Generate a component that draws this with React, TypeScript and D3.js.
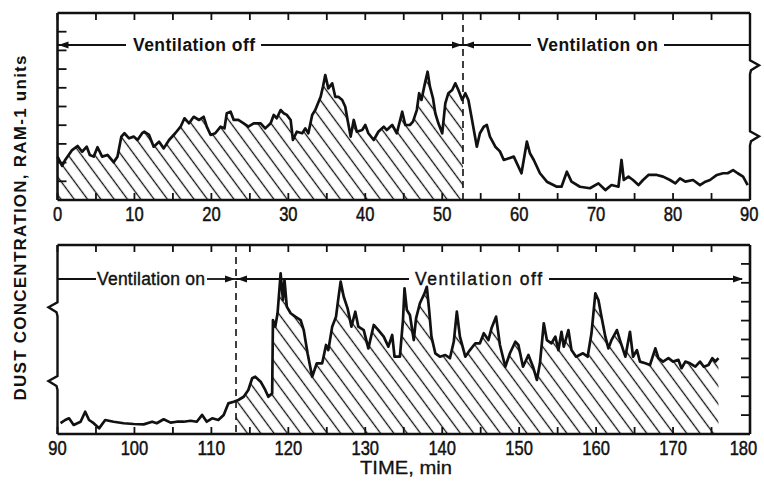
import React from "react";
import * as d3 from "d3";

const width = 764;
const height = 481;
const font = "'Liberation Sans', Arial, sans-serif";

// 0-90 min run (ventilation off, then on)
const topMinutes = [
  0, 0.6, 1.0, 1.9, 2.6, 3.2, 3.8, 4.2, 4.7, 5.2,
  5.8, 6.5, 7.3, 7.8, 8.3, 8.7, 9.3, 9.9, 10.4, 11.0,
  11.3, 11.9, 12.5, 13.2, 13.8, 14.5, 15.3, 16.0, 16.5, 17.1,
  17.7, 18.4, 19.0, 19.4, 19.9, 20.5, 21.2, 21.7, 22.0, 22.5,
  22.9, 23.5, 24.2, 24.8, 25.5, 26.4, 27.0, 27.7, 28.1, 28.5,
  29.0, 29.4, 29.8, 30.3, 30.6, 31.1, 31.8, 32.2, 32.6, 33.1,
  33.5, 34.2, 34.5, 34.8, 35.2, 35.7, 36.1, 36.5, 37.0, 37.4,
  37.7, 38.1, 38.5, 38.9, 39.6, 40.0, 40.4, 41.1, 41.7, 42.4,
  42.8, 43.5, 44.1, 44.8, 45.2, 45.8, 46.2, 46.7, 47.0, 47.3,
  47.8, 48.1, 48.4, 48.8, 49.1, 49.5, 50.0, 50.4, 50.8, 51.3,
  51.7, 52.1, 52.6, 53.0, 53.4, 53.8, 54.5, 54.9, 55.4, 55.8,
  56.2, 56.9, 57.5, 58.0, 59.3, 60.3, 61.0, 61.4, 61.9, 62.7,
  63.6, 64.9, 65.5, 66.2, 66.8, 67.9, 69.2, 70.3, 71.2, 72.0,
  72.9, 73.3, 73.6, 74.2, 74.8, 75.5, 76.1, 76.8, 77.9, 78.7,
  79.6, 80.3, 80.9, 81.6, 82.6, 83.5, 84.2, 84.8, 85.7, 86.5,
  87.1, 87.8, 88.4, 89.1, 89.7,
];
const topDust = [
  2.32, 1.83, 2.14, 2.67, 2.89, 2.58, 2.85, 2.41, 2.32, 2.82,
  2.32, 2.41, 2.02, 2.32, 3.39, 3.57, 3.3, 3.39, 3.21, 3.57,
  3.65, 3.48, 2.85, 3.12, 2.76, 3.21, 3.57, 3.92, 4.37, 4.1,
  4.45, 4.28, 4.45, 3.92, 3.48, 3.57, 3.92, 3.83, 4.64, 4.72,
  4.28, 4.28, 4.1, 3.92, 4.1, 4.1, 3.83, 4.1, 4.55, 4.37,
  4.81, 4.64, 4.55, 4.28, 3.21, 3.65, 3.57, 3.83, 3.57, 4.55,
  4.81, 5.52, 6.06, 6.68, 5.97, 6.24, 5.52, 5.52, 5.35, 4.99,
  4.28, 3.39, 4.28, 3.65, 3.74, 4.01, 3.57, 3.21, 3.65, 3.92,
  3.74, 4.01, 3.57, 4.72, 4.01, 4.01, 4.19, 4.81, 5.71, 5.35,
  6.33, 6.86, 6.06, 5.44, 4.64, 4.1, 3.57, 5.17, 5.71, 5.88,
  6.24, 5.88, 5.35, 5.71, 5.35, 4.45, 2.85, 3.57, 3.92, 4.01,
  3.39, 2.85, 2.6, 2.14, 2.32, 1.43, 3.12, 2.5, 2.14, 1.43,
  0.98, 0.71, 0.71, 1.51, 0.98, 0.71, 0.63, 0.89, 0.53, 0.8,
  0.71, 2.14, 1.07, 1.25, 1.07, 0.8, 1.07, 1.34, 1.34, 1.25,
  1.07, 0.89, 1.16, 0.98, 1.07, 0.8, 0.98, 1.07, 1.34, 1.43,
  1.43, 1.6, 1.43, 1.25, 0.8,
];

// 90-180 min run (ventilation on, then off)
const bottomMinutes = [
  90.4, 91.0, 91.5, 92.1, 93.0, 93.6, 94.1, 94.7, 95.4, 96.2,
  97.3, 98.6, 99.9, 101.2, 102.3, 102.9, 103.8, 104.7, 105.5, 106.4,
  107.3, 108.1, 108.8, 109.4, 110.1, 110.9, 111.6, 112.2, 112.9, 113.5,
  114.2, 114.8, 115.3, 115.7, 116.4, 117.0, 117.4, 117.9, 118.0, 118.3,
  118.6, 119.0, 119.3, 119.5, 119.8, 120.3, 120.9, 121.6, 122.0, 122.5,
  123.1, 123.7, 124.4, 124.9, 125.2, 125.7, 126.2, 126.5, 126.8, 127.2,
  127.7, 128.2, 128.7, 129.1, 129.8, 130.4, 131.1, 131.7, 132.4, 133.0,
  133.5, 133.8, 134.5, 134.9, 135.1, 135.4, 135.8, 136.3, 136.6, 137.1,
  137.7, 138.0, 138.3, 138.6, 139.1, 139.7, 140.4, 141.0, 141.5, 141.9,
  142.3, 143.0, 143.6, 144.3, 144.9, 145.4, 146.0, 146.4, 147.0, 147.5,
  148.2, 148.8, 149.5, 149.9, 150.5, 151.2, 151.8, 152.3, 152.7, 153.2,
  153.6, 154.2, 154.7, 155.1, 155.5, 155.8, 156.4, 156.8, 157.4, 158.3,
  158.9, 159.4, 159.9, 160.3, 160.7, 161.2, 161.6, 162.0, 162.7, 163.1,
  163.8, 164.4, 164.8, 165.3, 165.7, 166.4, 167.0, 167.7, 168.1, 168.7,
  169.4, 170.0, 170.7, 171.1, 171.6, 172.2, 172.9, 173.5, 174.0, 174.6,
  175.1, 175.5, 175.9,
];
const bottomDust = [
  0.57, 0.74, 0.83, 0.48, 0.65, 1.18, 0.74, 0.57, 0.3, 0.74,
  0.65, 0.57, 0.53, 0.51, 0.65, 0.57, 0.78, 0.6, 0.65, 0.65,
  0.7, 0.65, 1.01, 0.65, 0.83, 0.74, 1.01, 1.62, 1.71, 1.8,
  1.97, 2.33, 2.95, 3.03, 2.77, 2.33, 1.97, 2.15, 6.03, 5.68,
  6.39, 8.5, 7.09, 8.15, 6.74, 6.39, 6.21, 6.03, 5.5, 4.27,
  3.03, 3.74, 3.74, 4.71, 4.44, 5.68, 6.21, 7.18, 8.06, 7.26,
  6.65, 5.68, 6.47, 5.68, 5.5, 4.53, 5.77, 5.5, 5.15, 4.62,
  5.24, 4.09, 4.09, 6.03, 7.71, 6.56, 6.3, 4.97, 6.12, 6.92,
  7.44, 7.79, 6.56, 5.15, 4.27, 4.09, 4.18, 4.01, 4.88, 6.47,
  5.15, 4.09, 4.44, 4.8, 4.8, 5.33, 4.97, 5.59, 6.21, 4.71,
  3.56, 4.27, 4.88, 4.71, 3.56, 4.18, 3.56, 2.86, 3.74, 5.86,
  4.97, 4.8, 5.15, 4.44, 5.41, 4.62, 5.5, 4.44, 4.09, 4.27,
  4.09, 5.33, 7.44, 7.09, 6.21, 5.15, 4.53, 4.97, 5.5, 4.97,
  4.09, 5.41, 4.09, 4.44, 3.83, 3.74, 3.65, 4.53, 4.01, 3.83,
  4.01, 3.83, 3.92, 3.48, 3.83, 3.74, 3.56, 3.83, 3.56, 3.65,
  4.01, 3.83, 4.01,
];

const topTicks = [0, 10, 20, 30, 40, 50, 60, 70, 80, 90];
const bottomTicks = [90, 100, 110, 120, 130, 140, 150, 160, 170, 180];
const yTicks = [1, 2, 3, 4, 5, 6, 7, 8, 9];
const topSwitch = 52.7; // ventilation turned on
const bottomSwitch = 113.2; // ventilation turned off
const topBreaks = [7.1, 3.3];
const bottomBreaks = [6.6, 2.7];

const left = 57.5;
const right = 750;

// value of the trace at time t, to close the hatched area at the switch line
function valueAt(minutes: number[], dust: number[], t: number) {
  const i = d3.bisectLeft(minutes, t);
  if (i <= 0) return dust[0];
  if (i >= minutes.length) return dust[dust.length - 1];
  const f = (t - minutes[i - 1]) / (minutes[i] - minutes[i - 1]);
  return dust[i - 1] + (dust[i] - dust[i - 1]) * f;
}

function arrowHead(x: number, y: number, dir: number) {
  return `M${x},${y}L${x - dir * 10},${y - 3.5}L${x - dir * 10},${y + 3.5}Z`;
}

// frame side with axis-break zigzags
function sidePath(x: number, yTop: number, yBot: number, breaks: number[], dir: number) {
  let d = `M${x},${yTop}`;
  breaks
    .slice()
    .sort((a, b) => a - b)
    .forEach((b) => {
      d += `L${x},${b - 7}L${x + dir * 9},${b - 2}L${x + dir * 1},${b + 3}L${x},${b + 7}`;
    });
  return d + `L${x},${yBot}`;
}

type PanelProps = {
  domain: [number, number];
  top: number;
  bottom: number;
  minutes: number[];
  dust: number[];
  hatchFrom: number;
  hatchTo: number;
  switchAt: number;
  ticks: number[];
  tickSide: "left" | "right";
  breaks: number[];
  children?: React.ReactNode;
};

function Panel(p: PanelProps) {
  const x = d3.scaleLinear().domain(p.domain).range([left, right]);
  const y = d3.scaleLinear().domain([0, 10]).range([p.bottom, p.top]);

  const pts: [number, number][] = p.minutes.map((m, i) => [m, p.dust[i]]);
  const line = d3
    .line<[number, number]>()
    .x((d) => x(d[0]))
    .y((d) => y(d[1]));

  const hatch: [number, number][] = [
    [p.hatchFrom, valueAt(p.minutes, p.dust, p.hatchFrom)],
    ...pts.filter((d) => d[0] > p.hatchFrom && d[0] < p.hatchTo),
    [p.hatchTo, valueAt(p.minutes, p.dust, p.hatchTo)],
  ];
  const area = d3
    .area<[number, number]>()
    .x((d) => x(d[0]))
    .y0(y(0))
    .y1((d) => y(d[1]));

  const minor = d3.range(p.domain[0], p.domain[1] + 0.1, 5);
  const tickX = p.tickSide === "left" ? left : right;
  const tickDir = p.tickSide === "left" ? 1 : -1;
  const breakX = p.tickSide === "left" ? right : left;
  const breakDir = p.tickSide === "left" ? 1 : -1;

  return (
    <g>
      <path d={area(hatch) || ""} fill="url(#hatch)" />
      <line
        x1={x(p.switchAt)}
        x2={x(p.switchAt)}
        y1={p.top}
        y2={p.bottom}
        stroke="#111"
        strokeWidth={1.6}
        strokeDasharray="7,5"
      />
      <path d={line(pts) || ""} fill="none" stroke="#111" strokeWidth={2.7} strokeLinejoin="round" />

      {/* frame */}
      <line x1={left} x2={right} y1={p.top} y2={p.top} stroke="#111" strokeWidth={2.6} />
      <line x1={left} x2={right} y1={p.bottom} y2={p.bottom} stroke="#111" strokeWidth={2.6} />
      <line x1={tickX} x2={tickX} y1={p.top} y2={p.bottom} stroke="#111" strokeWidth={2.6} />
      <path
        d={sidePath(breakX, p.top, p.bottom, p.breaks.map((b) => y(b)), breakDir)}
        fill="none"
        stroke="#111"
        strokeWidth={2.4}
      />

      {minor.map((m) => (
        <g key={m}>
          <line x1={x(m)} x2={x(m)} y1={p.top} y2={p.top + 7} stroke="#111" strokeWidth={1.8} />
          <line x1={x(m)} x2={x(m)} y1={p.bottom} y2={p.bottom - 7} stroke="#111" strokeWidth={1.8} />
        </g>
      ))}
      {yTicks.map((v) => (
        <line
          key={v}
          x1={tickX}
          x2={tickX + tickDir * 9}
          y1={y(v)}
          y2={y(v)}
          stroke="#111"
          strokeWidth={1.8}
        />
      ))}
      {p.ticks.map((t) => {
        const chars = String(t).length;
        const w = chars * 9.2;
        // keep the last label inside the page
        const cx = Math.min(x(t), width - 3 - (chars * 11.7) / 2);
        return (
          <text
            key={t}
            x={cx}
            y={p.bottom + 21}
            textAnchor="middle"
            fontFamily={font}
            fontSize={21}
            textLength={w}
            lengthAdjust="spacingAndGlyphs"
            fill="#111"
            stroke="#111"
            strokeWidth={0.5}
          >
            {t}
          </text>
        );
      })}
      {p.children}
    </g>
  );
}

export default function App() {
  const xTop = d3.scaleLinear().domain([0, 90]).range([left, right]);
  const xBot = d3.scaleLinear().domain([90, 180]).range([left, right]);
  const sTop = xTop(topSwitch);
  const sBot = xBot(bottomSwitch);
  const yA = 45;
  const yB = 279;
  const stroke = { stroke: "#111", strokeWidth: 1.8 };

  return (
    <svg
      width={width}
      height={height}
      style={{ position: "absolute", left: 0, top: 0, background: "#fff" }}
    >
      <defs>
        <pattern
          id="hatch"
          patternUnits="userSpaceOnUse"
          width={10.7}
          height={10.7}
          patternTransform="rotate(-36.5)"
        >
          <line x1={5.35} x2={5.35} y1={-1} y2={12} stroke="#111" strokeWidth={1.3} />
        </pattern>
      </defs>
      <rect width={width} height={height} fill="#fff" />

      <Panel
        domain={[0, 90]}
        top={13}
        bottom={200}
        minutes={topMinutes}
        dust={topDust}
        hatchFrom={0}
        hatchTo={topSwitch}
        switchAt={topSwitch}
        ticks={topTicks}
        tickSide="left"
        breaks={topBreaks}
      >
        <line x1={left} x2={126} y1={yA} y2={yA} {...stroke} />
        <path d={arrowHead(left + 1, yA, -1)} fill="#111" />
        <text x={133} y={yA + 6} fontFamily={font} fontWeight="bold" fontSize={17.5} textLength={122} lengthAdjust="spacing" fill="#111">
          Ventilation off
        </text>
        <line x1={261} x2={sTop} y1={yA} y2={yA} {...stroke} />
        <path d={arrowHead(sTop - 1, yA, 1)} fill="#111" />
        <line x1={sTop} x2={531} y1={yA} y2={yA} {...stroke} />
        <path d={arrowHead(sTop + 1, yA, -1)} fill="#111" />
        <text x={537} y={yA + 6} fontFamily={font} fontWeight="bold" fontSize={17.5} textLength={121} lengthAdjust="spacing" fill="#111">
          Ventilation on
        </text>
        <line x1={664} x2={right} y1={yA} y2={yA} {...stroke} />
      </Panel>

      <Panel
        domain={[90, 180]}
        top={245}
        bottom={434}
        minutes={bottomMinutes}
        dust={bottomDust}
        hatchFrom={bottomSwitch}
        hatchTo={bottomMinutes[bottomMinutes.length - 1]}
        switchAt={bottomSwitch}
        ticks={bottomTicks}
        tickSide="right"
        breaks={bottomBreaks}
      >
        <line x1={left} x2={96} y1={yB} y2={yB} {...stroke} />
        <text x={97} y={yB + 6} fontFamily={font} fontSize={17.5} textLength={108} lengthAdjust="spacing" fill="#111" stroke="#111" strokeWidth={0.4}>
          Ventilation on
        </text>
        <line x1={207} x2={sBot} y1={yB} y2={yB} {...stroke} />
        <path d={arrowHead(sBot - 1, yB, 1)} fill="#111" />
        <line x1={sBot} x2={409} y1={yB} y2={yB} {...stroke} />
        <path d={arrowHead(sBot + 1, yB, -1)} fill="#111" />
        <text x={415} y={yB + 6} fontFamily={font} fontSize={17.5} textLength={127} lengthAdjust="spacing" fill="#111" stroke="#111" strokeWidth={0.4}>
          Ventilation off
        </text>
        <line x1={549} x2={742} y1={yB} y2={yB} {...stroke} />
        <path d={arrowHead(743, yB, 1)} fill="#111" />
      </Panel>

      <text
        transform="translate(26,228) rotate(-90)"
        textAnchor="middle"
        fontFamily={font}
        fontWeight="bold"
        fontSize={17}
        textLength={345}
        lengthAdjust="spacing"
        fill="#111"
      >
        DUST CONCENTRATION, RAM-1 units
      </text>
      <text
        x={406}
        y={474}
        textAnchor="middle"
        fontFamily={font}
        fontSize={19}
        textLength={92}
        lengthAdjust="spacingAndGlyphs"
        fill="#111"
        stroke="#111"
        strokeWidth={0.3}
      >
        TIME, min
      </text>
    </svg>
  );
}
